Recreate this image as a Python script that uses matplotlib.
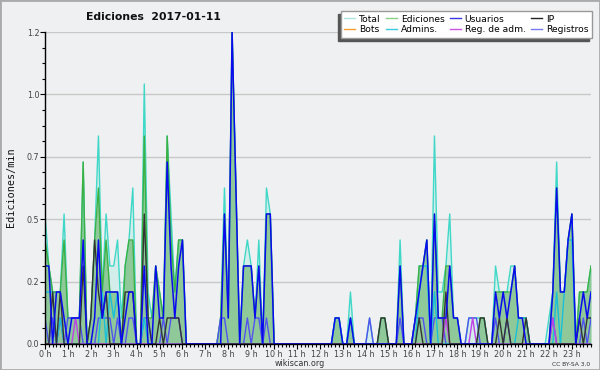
import matplotlib.pyplot as plt
import numpy as np
from matplotlib.lines import Line2D
from matplotlib.patches import Rectangle
from matplotlib.ticker import MultipleLocator

# edits per 10-minute slot on 2017-01-11 (144 slots, 24 per line = 4 hours)
total = [5,3,2,2,2,5, 1,1,1,1,7,0, 1,4,8,2,5,3, 3,4,1,3,4,6,
         0,0,10,2,1,3, 2,1,8,5,2,4, 4,0,0,0,0,0, 0,0,0,0,1,6,
         1,12,6,0,3,4, 3,1,4,0,6,5, 0,0,0,0,0,0, 0,0,0,0,0,0,
         0,0,0,0,1,1, 0,0,2,0,0,0, 0,1,0,0,1,1, 0,0,0,4,0,0,
         0,1,3,3,4,0, 8,2,2,3,5,1, 1,0,0,1,1,1, 1,1,0,0,3,2,
         2,2,3,3,1,1, 1,0,0,0,0,0, 1,2,7,2,2,4, 5,0,2,2,2,3]
ediciones = [4,3,2,2,2,4, 1,1,1,1,7,0, 1,4,6,2,4,2, 2,2,0,3,4,4,
             0,0,8,1,1,3, 2,1,8,4,2,4, 4,0,0,0,0,0, 0,0,0,0,1,5,
             1,12,6,0,3,3, 3,1,3,0,5,5, 0,0,0,0,0,0, 0,0,0,0,0,0,
             0,0,0,0,1,1, 0,0,1,0,0,0, 0,0,0,0,1,1, 0,0,0,3,0,0,
             0,1,3,3,4,0, 5,1,1,3,3,1, 1,0,0,0,0,0, 1,1,0,0,2,2,
             2,2,2,3,1,1, 1,0,0,0,0,0, 0,2,6,2,2,4, 5,0,2,2,2,3]
usuarios = [3,3,0,2,2,1, 0,1,1,1,4,0, 0,1,4,1,2,2, 2,2,0,1,2,2,
            0,0,3,0,0,3, 1,1,7,3,1,3, 4,0,0,0,0,0, 0,0,0,0,0,5,
            1,12,6,0,3,3, 3,1,3,0,5,5, 0,0,0,0,0,0, 0,0,0,0,0,0,
            0,0,0,0,1,1, 0,0,1,0,0,0, 0,0,0,0,0,0, 0,0,0,3,0,0,
            0,1,2,3,4,0, 5,1,1,1,3,1, 1,0,0,0,0,0, 0,0,0,0,2,1,
            2,1,2,3,1,1, 0,0,0,0,0,0, 0,2,6,2,2,4, 5,0,1,2,1,2]
ip = [0,0,2,0,2,0, 0,0,0,0,3,0, 1,4,2,1,2,0, 0,0,0,2,2,2,
      0,0,5,1,0,0, 1,0,1,1,1,1, 0,0,0,0,0,0, 0,0,0,0,0,0,
      0,0,0,0,0,0, 0,0,0,0,0,0, 0,0,0,0,0,0, 0,0,0,0,0,0,
      0,0,0,0,0,0, 0,0,0,0,0,0, 0,0,0,0,1,1, 0,0,0,0,0,0,
      0,0,1,0,0,0, 0,0,0,2,0,0, 0,0,0,0,0,0, 1,1,0,0,0,1,
      0,1,0,0,0,0, 1,0,0,0,0,0, 0,0,0,0,0,0, 0,0,1,0,1,1]
bots = [0] * 144
admins = [2,2,2,0,1,0, 0,0,0,0,0,0, 0,0,0,2,0,2, 1,2,0,0,0,0,
          0,0,1,0,0,0, 0,0,0,0,0,0, 0,0,0,0,0,0, 0,0,0,0,0,0,
          0,0,0,0,0,0, 0,0,0,0,0,0, 0,0,0,0,0,0, 0,0,0,0,0,0,
          0,0,0,0,1,1, 0,0,1,0,0,0, 0,0,0,0,0,0, 0,0,0,0,0,0,
          0,0,2,3,3,0, 2,0,0,0,0,0, 0,0,0,0,0,0, 0,0,0,0,0,0,
          0,0,0,0,1,1, 1,0,0,0,0,0, 0,0,2,0,2,4, 4,0,0,0,0,0]
reg_adm = [0,0,0,0,0,0, 0,0,1,0,0,0, 0,0,0,0,0,0, 0,0,0,0,0,0,
           0,0,0,0,0,0, 0,0,0,0,0,0, 0,0,0,0,0,0, 0,0,0,0,0,0,
           0,0,0,0,0,0, 0,0,0,0,0,0, 0,0,0,0,0,0, 0,0,0,0,0,0,
           0,0,0,0,0,0, 0,0,0,0,0,0, 0,0,0,0,0,0, 0,0,0,0,0,0,
           0,0,0,0,0,0, 0,0,0,1,0,0, 0,0,0,0,1,0, 0,0,0,0,0,0,
           0,0,0,0,0,0, 0,0,0,0,0,0, 0,1,0,0,0,0, 0,0,0,0,0,0]
registros = [1,0,1,0,1,0, 1,1,1,1,0,0, 0,0,1,1,1,1, 0,1,0,0,1,1,
             0,0,1,1,0,0, 0,1,0,1,1,1, 0,0,0,0,0,0, 0,0,0,0,1,1,
             0,0,0,0,0,1, 0,1,1,0,1,0, 0,0,0,0,0,0, 0,0,0,0,0,0,
             0,0,0,0,0,0, 0,0,0,0,0,0, 0,1,0,0,0,0, 0,0,0,1,0,0,
             0,1,1,1,0,0, 1,1,1,0,0,0, 0,0,0,1,1,1, 0,0,0,0,1,0,
             0,1,0,0,0,0, 0,0,0,0,0,0, 0,1,0,0,0,0, 0,0,0,1,0,1]

hours = np.arange(144) / 6.0


def per_min(counts):
    return np.array(counts) / 10.0


bg = '#eff0f1'
fig = plt.figure(figsize=(6, 3.7), dpi=100, facecolor=bg)
ax = fig.add_axes([0.075, 0.0703, 0.910, 0.8432])
ax.set_facecolor(bg)

ax.fill_between(hours, per_min(total), color='#d3eeea', lw=0)
ax.fill_between(hours, per_min(ediciones), color='#8fc99a', lw=0)

series = [
    (total, '#3fd8c8', 1.0),
    (ediciones, '#3cb043', 1.0),
    (bots, '#f5a030', 1.0),
    (registros, '#5252f0', 1.0),
    (admins, '#18c0d8', 1.0),
    (reg_adm, '#c040e8', 1.0),
    (ip, '#333333', 1.0),
    (usuarios, '#0a0af0', 1.1),
]
for vals, col, lw in series:
    ax.plot(hours, per_min(vals), color=col, lw=lw)

ax.set_xlim(0, 143 / 6)
ax.set_ylim(0, 1.2)
ax.set_xticks(range(24))
ax.set_xticklabels([f'{h} h' for h in range(24)])
ax.xaxis.set_minor_locator(MultipleLocator(1 / 6))
ax.set_yticks(np.linspace(0, 1.2, 6))
ax.yaxis.set_major_formatter('{x:.1f}')
ax.yaxis.set_minor_locator(MultipleLocator(0.06))
ax.tick_params(which='both', direction='out', color='black', labelsize=5.8,
               labelcolor='#444444', pad=0.5)
ax.tick_params(which='major', length=3.5, width=0.8)
ax.tick_params(which='minor', length=2.2, width=0.8)
ax.yaxis.grid(True, color='#c8c8c8', lw=1)
ax.set_axisbelow(True)
for s in ['top', 'right']:
    ax.spines[s].set_visible(False)
for s in ['left', 'bottom']:
    ax.spines[s].set_color('black')
    ax.spines[s].set_linewidth(1)

fig.text(0.255, 0.954, 'Ediciones  2017-01-11', ha='center', va='center',
         fontsize=7.8, fontweight='bold', color='#111111')
fig.text(0.018, 0.493, 'Ediciones/min', rotation=90, ha='center', va='center',
         family='DejaVu Sans Mono', fontsize=7.3, color='#111111')
fig.text(0.5, 1 - 363.5 / 370, 'wikiscan.org', ha='center', va='center',
         fontsize=5.8, color='#333333')
fig.text(0.983, 1 - 364 / 370, 'CC BY-SA 3.0', ha='right', va='center',
         fontsize=4.3, color='#333333')

labels = ['Total', 'Bots', 'Ediciones', 'Admins.', 'Usuarios', 'Reg. de adm.',
          'IP', 'Registros']
colors = ['#a8e6de', '#f5a030', '#88d088', '#40c8dc', '#3838e0', '#d050e8',
          '#222222', '#7878f0']
handles = [Line2D([], [], color=c, lw=1) for c in colors]
fig.legend(handles, labels, ncol=4, loc='upper right',
           bbox_to_anchor=(592 / 600, 1 - 11 / 370), fontsize=6.6,
           frameon=True, fancybox=False, edgecolor='#999999',
           shadow={'ox': -2, 'oy': -2, 'facecolor': '#555555',
                   'edgecolor': '#555555', 'alpha': 1},
           handlelength=1.2, handletextpad=0.4, columnspacing=0.6,
           labelspacing=0.2, borderpad=0.4, borderaxespad=0)

fig.patches.append(Rectangle((0, 0), 1, 1, transform=fig.transFigure,
                             fill=False, edgecolor='#aaaaaa', lw=2))

fig.savefig('out.png', dpi=100, facecolor=bg)
